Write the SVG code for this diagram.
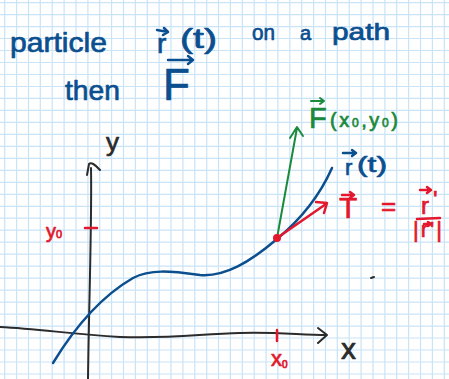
<svg xmlns="http://www.w3.org/2000/svg" width="449" height="379" viewBox="0 0 449 379">
<style>
.t{font-family:"Liberation Sans",Arial,sans-serif;stroke-width:0.7;stroke-linejoin:round}
.blue{fill:#0b4f8f;stroke:#0b4f8f}
.red{fill:#e3182d;stroke:#e3182d}
.green{fill:#1b8a3c;stroke:#1b8a3c}
.dark{fill:#2b2b2b;stroke:#2b2b2b}
.s{fill:none;stroke-linecap:round;stroke-linejoin:round}
.sb{stroke:#0b4f8f;stroke-width:2.5}
.sr{stroke:#e3182d;stroke-width:2.5}
.sg{stroke:#1b8a3c;stroke-width:2}
.sk{stroke:#2b2b2b;stroke-width:2}
</style>
<rect width="449" height="379" fill="#ffffff"/>
<g id="grid" fill="none" stroke="#c9e3f7" stroke-width="1.2">
<path d="M4.7 0V379M16.6 0V379M28.5 0V379M40.3 0V379M52.2 0V379M64.1 0V379M76 0V379M87.9 0V379M99.7 0V379M111.6 0V379M123.5 0V379M135.4 0V379M147.3 0V379M159.1 0V379M171 0V379M182.9 0V379M194.8 0V379M206.7 0V379M218.5 0V379M230.4 0V379M242.3 0V379M254.2 0V379M266.1 0V379M277.9 0V379M289.8 0V379M301.7 0V379M313.6 0V379M325.5 0V379M337.3 0V379M349.2 0V379M361.1 0V379M373 0V379M384.9 0V379M396.7 0V379M408.6 0V379M420.5 0V379M432.4 0V379M444.3 0V379"/>
<path d="M0 2.6H449M0 14.6H449M0 26.6H449M0 38.5H449M0 50.5H449M0 62.5H449M0 74.5H449M0 86.5H449M0 98.4H449M0 110.4H449M0 122.4H449M0 134.4H449M0 146.4H449M0 158.3H449M0 170.3H449M0 182.3H449M0 194.3H449M0 206.3H449M0 218.2H449M0 230.2H449M0 242.2H449M0 254.2H449M0 266.2H449M0 278.1H449M0 290.1H449M0 302.1H449M0 314.1H449M0 326.1H449M0 338H449M0 350H449M0 362H449M0 374H449"/>
</g>
<g id="title">
<text class="t blue" x="10" y="52" font-size="28" textLength="97" lengthAdjust="spacingAndGlyphs">particle</text>
<text class="t blue" x="157" y="53" font-size="28">r</text>
<path class="s sb" d="M157 30L168 32M164 28L168 32L163 35"/>
<text class="t blue" x="180" y="48" font-size="28" textLength="37" lengthAdjust="spacingAndGlyphs">(t)</text>
<text class="t blue" x="252" y="40" font-size="22" textLength="23" lengthAdjust="spacingAndGlyphs">on</text>
<text class="t blue" x="300" y="40" font-size="20">a</text>
<text class="t blue" x="332" y="40" font-size="24" textLength="58" lengthAdjust="spacingAndGlyphs">path</text>
<text class="t blue" x="65" y="100" font-size="28" textLength="55" lengthAdjust="spacingAndGlyphs">then</text>
<text class="t blue" x="163" y="100" font-size="44">F</text>
<path class="s sb" d="M168 60L193 60M188 56L193 60L188 64"/>
</g>
<g id="connectors">
<path id="x-axis" class="s sk" d="M0 327C40 329 70 334 120 337C170 339 200 334 240 333C280 332 300 335 327 335M318 328L327 335L318 343"/>
<path id="y-axis" class="s sk" d="M91 168C92 220 89 300 88 379M87 175L89 164Q92 161 100 170"/>
<path id="path-r" class="s sb" d="M53 363C70 335 95 300 133 278C150 269 170 271 200 275C225 277 250 262 277 239C300 220 320 195 332 168"/>
<path id="force" class="s sg" d="M277 238L297 128M290 138L297 127L303 136"/>
<path id="tangent" class="s sr" stroke-width="4" d="M277 238L326 204"/>
<path class="s sr" d="M316 202L327 203L324 213"/>
<circle cx="277" cy="238" r="4" fill="#e3182d"/>
<path class="s sr" d="M277 330L277 341M85 228L97 228"/>
<path class="s sk" stroke-width="1.5" d="M371 278L374 277"/>
</g>
<g id="labels">
<text class="t dark" x="106" y="151" font-size="26">y</text>
<text class="t dark" x="341" y="359" font-size="30">x</text>
<text class="t red" x="271" y="366" font-size="22">x<tspan font-size="10" dy="2">0</tspan></text>
<text class="t red" x="46" y="238" font-size="20">y<tspan font-size="11">0</tspan></text>
<text class="t green" x="309" y="128" font-size="29">F</text>
<path class="s sg" d="M311 101L324 101M320 98L324 101L320 104"/>
<text class="t green" x="330" y="127" font-size="20" letter-spacing="2.6">(x<tspan font-size="12">0</tspan>,y<tspan font-size="12">0</tspan>)</text>
<text class="t blue" x="345" y="175" font-size="22">r</text>
<path class="s sb" d="M343 153L356 153M352 150L356 153L352 156"/>
<text class="t blue" x="357" y="172" font-size="22" textLength="30" lengthAdjust="spacingAndGlyphs">(t)</text>
<text class="t red" x="339" y="218" font-size="30">T</text>
<path class="s sr" d="M342 195L354 195M350 192L354 195L350 198"/>
<text class="t red" x="381" y="215" font-size="26">=</text>
<text class="t red" x="421" y="214" font-size="24">r<tspan dx="4" dy="-6">'</tspan></text>
<path class="s sr" d="M420 190L431 190M427 187L431 190L427 193"/>
<path class="s sr" d="M417 219L440 218"/>
<text class="t red" x="413" y="237" font-size="22" letter-spacing="2">|r'|</text>
<path class="s sr" stroke-width="1.8" d="M424 224L431 224M428 222L431 224L428 226"/>
</g>
</svg>
